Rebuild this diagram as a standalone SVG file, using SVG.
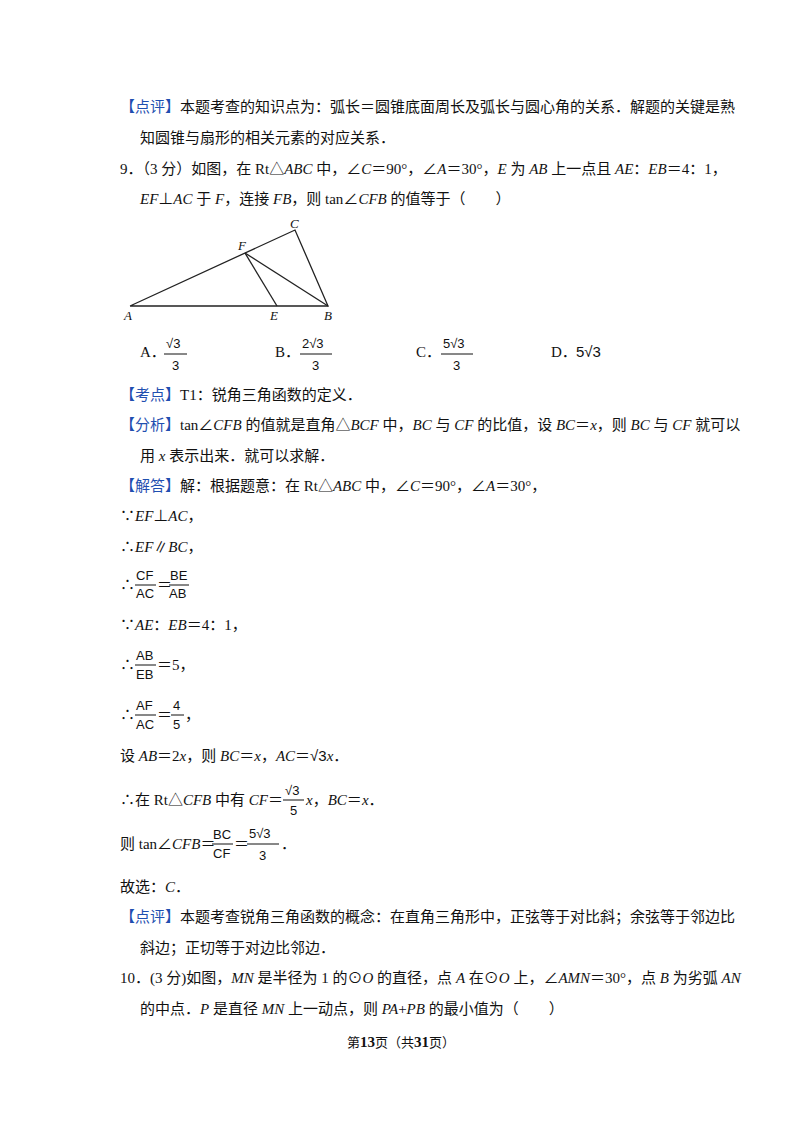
<svg xmlns="http://www.w3.org/2000/svg" width="800" height="1132" viewBox="0 0 800 1132">
<style>
text{font-family:"Liberation Serif","Noto Sans CJK SC",serif;font-size:15px;fill:#111}
.b{fill:#1f4fb0}
.i{font-style:italic}
.s{font-family:"Liberation Sans","Noto Sans CJK SC",sans-serif;font-size:13px}
.fl{stroke:#111;stroke-width:1}
.g{stroke:#222;stroke-width:1.3;fill:none}
.lb{font-style:italic;font-size:13px}
</style>
<rect width="800" height="1132" fill="#fff"/>
<text x="120" y="112"><tspan class="b">【点评】</tspan>本题考查的知识点为：弧长＝圆锥底面周长及弧长与圆心角的关系．解题的关键是熟</text>
<text x="140" y="143">知圆锥与扇形的相关元素的对应关系．</text>
<text x="120" y="174">9．（3 分）如图，在 Rt△<tspan class="i">ABC</tspan> 中，∠<tspan class="i">C</tspan>＝90°，∠<tspan class="i">A</tspan>＝30°，<tspan class="i">E</tspan> 为 <tspan class="i">AB</tspan> 上一点且 <tspan class="i">AE</tspan>：<tspan class="i">EB</tspan>＝4：1，</text>
<text x="140" y="204"><tspan class="i">EF</tspan>⊥<tspan class="i">AC</tspan> 于 <tspan class="i">F</tspan>，连接 <tspan class="i">FB</tspan>，则 tan∠<tspan class="i">CFB</tspan> 的值等于（　　）</text>
<g id="figure">
<polyline class="g" points="130,306 328,306 295,230 130,306"/>
<line class="g" x1="245" y1="253" x2="277" y2="306"/>
<line class="g" x1="245" y1="253" x2="328" y2="306"/>
<text class="lb" x="124" y="320">A</text>
<text class="lb" x="270" y="320">E</text>
<text class="lb" x="324" y="320">B</text>
<text class="lb" x="238" y="250">F</text>
<text class="lb" x="290" y="228">C</text>
</g>
<text x="140" y="357">A．</text>
<text class="s" x="166" y="348">√3</text><line class="fl" x1="164" y1="354" x2="187" y2="354"/><text class="s" x="172" y="370">3</text>
<text x="275" y="357">B．</text>
<text class="s" x="302" y="348">2√3</text><line class="fl" x1="300" y1="354" x2="332" y2="354"/><text class="s" x="312" y="370">3</text>
<text x="416" y="357">C．</text>
<text class="s" x="443" y="348">5√3</text><line class="fl" x1="441" y1="354" x2="473" y2="354"/><text class="s" x="453" y="370">3</text>
<text x="551" y="357">D．</text><text class="s" x="576" y="357" style="font-size:15px">5√3</text>
<text x="120" y="400"><tspan class="b">【考点】</tspan>T1：锐角三角函数的定义．</text>
<text x="120" y="430"><tspan class="b">【分析】</tspan>tan∠<tspan class="i">CFB</tspan> 的值就是直角△<tspan class="i">BCF</tspan> 中，<tspan class="i">BC</tspan> 与 <tspan class="i">CF</tspan> 的比值，设 <tspan class="i">BC</tspan>＝<tspan class="i">x</tspan>，则 <tspan class="i">BC</tspan> 与 <tspan class="i">CF</tspan> 就可以</text>
<text x="140" y="461">用 <tspan class="i">x</tspan> 表示出来．就可以求解．</text>
<text x="120" y="491"><tspan class="b">【解答】</tspan>解：根据题意：在 Rt△<tspan class="i">ABC</tspan> 中，∠<tspan class="i">C</tspan>＝90°，∠<tspan class="i">A</tspan>＝30°，</text>
<text x="120" y="521">∵<tspan class="i">EF</tspan>⊥<tspan class="i">AC</tspan>，</text>
<text x="120" y="552">∴<tspan class="i">EF</tspan>∥<tspan class="i">BC</tspan>，</text>
<text x="120" y="590">∴</text>
<text class="s" x="136" y="580">CF</text><line class="fl" x1="135" y1="585" x2="156" y2="585"/><text class="s" x="136" y="598">AC</text>
<text x="157" y="590">＝</text>
<text class="s" x="170" y="580">BE</text><line class="fl" x1="169" y1="585" x2="189" y2="585"/><text class="s" x="169" y="598">AB</text>
<text x="120" y="630">∵<tspan class="i">AE</tspan>：<tspan class="i">EB</tspan>＝4：1，</text>
<text x="120" y="670">∴</text>
<text class="s" x="136" y="660">AB</text><line class="fl" x1="135" y1="665" x2="156" y2="665"/><text class="s" x="136" y="679">EB</text>
<text x="157" y="670">＝5，</text>
<text x="120" y="720">∴</text>
<text class="s" x="136" y="710">AF</text><line class="fl" x1="135" y1="715" x2="156" y2="715"/><text class="s" x="136" y="729">AC</text>
<text x="157" y="720">＝</text>
<text class="s" x="173" y="710">4</text><line class="fl" x1="171" y1="715" x2="184" y2="715"/><text class="s" x="173" y="729">5</text>
<text x="185" y="720">，</text>
<text x="120" y="761">设 <tspan class="i">AB</tspan>＝2<tspan class="i">x</tspan>，则 <tspan class="i">BC</tspan>＝<tspan class="i">x</tspan>，<tspan class="i">AC</tspan>＝<tspan class="s" style="font-size:15px">√3</tspan><tspan class="i">x</tspan>．</text>
<text x="120" y="805">∴在 Rt△<tspan class="i">CFB</tspan> 中有 <tspan class="i">CF</tspan>＝</text>
<text class="s" x="285" y="795">√3</text><line class="fl" x1="283" y1="800" x2="304" y2="800"/><text class="s" x="290" y="815">5</text>
<text x="306" y="805"><tspan class="i">x</tspan>，<tspan class="i">BC</tspan>＝<tspan class="i">x</tspan>．</text>
<text x="120" y="849">则 tan∠<tspan class="i">CFB</tspan>＝</text>
<text class="s" x="213" y="839">BC</text><line class="fl" x1="212" y1="844" x2="233" y2="844"/><text class="s" x="213" y="858">CF</text>
<text x="234" y="849">＝</text>
<text class="s" x="249" y="838">5√3</text><line class="fl" x1="247" y1="844" x2="279" y2="844"/><text class="s" x="259" y="860">3</text>
<text x="281" y="849">．</text>
<text x="120" y="892">故选：<tspan class="i">C</tspan>．</text>
<text x="120" y="922"><tspan class="b">【点评】</tspan>本题考查锐角三角函数的概念：在直角三角形中，正弦等于对比斜；余弦等于邻边比</text>
<text x="140" y="953">斜边；正切等于对边比邻边．</text>
<text x="120" y="983">10．(3 分)如图，<tspan class="i">MN</tspan> 是半径为 1 的⊙<tspan class="i">O</tspan> 的直径，点 <tspan class="i">A</tspan> 在⊙<tspan class="i">O</tspan> 上，∠<tspan class="i">AMN</tspan>＝30°，点 <tspan class="i">B</tspan> 为劣弧 <tspan class="i">AN</tspan></text>
<text x="140" y="1014">的中点．<tspan class="i">P</tspan> 是直径 <tspan class="i">MN</tspan> 上一动点，则 <tspan class="i">PA</tspan>+<tspan class="i">PB</tspan> 的最小值为（　　）</text>
<text x="347" y="1047" style="font-size:13px">第<tspan style="font-weight:bold;font-size:15px">13</tspan>页（共<tspan style="font-weight:bold;font-size:15px">31</tspan>页）</text>
</svg>
